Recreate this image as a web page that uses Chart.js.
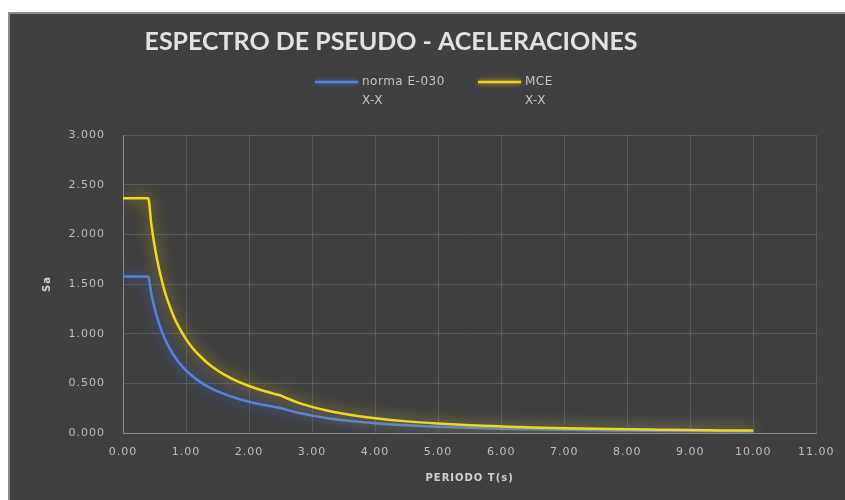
<!DOCTYPE html>
<html>
<head>
<meta charset="utf-8">
<script src="https://cdn.jsdelivr.net/npm/chart.js@4.4.1/dist/chart.umd.min.js"></script>
<style>
  html, body { margin: 0; padding: 0; background: #ffffff; }
  #wrap { position: absolute; left: 0; top: 0; width: 845px; height: 500px; }
</style>
</head>
<body>
<div id="wrap"><canvas id="spectrum" width="845" height="500"></canvas></div>
<script>
// Periods T (s)
const periods = [0, 0.1, 0.2, 0.3, 0.4, 0.45, 0.5, 0.55, 0.6, 0.65, 0.7, 0.8, 0.9, 1.0,
  1.1, 1.2, 1.3, 1.4, 1.5, 1.6, 1.8, 2.0, 2.2, 2.4, 2.5, 2.6, 2.8, 3.0, 3.25, 3.5, 3.75,
  4.0, 4.5, 5.0, 5.5, 6.0, 6.5, 7.0, 7.5, 8.0, 8.5, 9.0, 9.5, 10.0];

// Sa – design spectrum, norma E-030, X-X direction
const saE030 = [1.575, 1.575, 1.575, 1.575, 1.575, 1.400, 1.260, 1.145, 1.050, 0.969, 0.900, 0.788, 0.700, 0.630,
  0.573, 0.525, 0.485, 0.450, 0.420, 0.394, 0.350, 0.315, 0.286, 0.263, 0.252, 0.233, 0.201, 0.175, 0.149, 0.129, 0.112,
  0.098, 0.078, 0.063, 0.052, 0.044, 0.037, 0.032, 0.028, 0.025, 0.022, 0.019, 0.017, 0.016];

// Sa – maximum considered earthquake, X-X direction
const saMCE = [2.363, 2.363, 2.363, 2.363, 2.363, 2.100, 1.890, 1.718, 1.575, 1.454, 1.350, 1.181, 1.050, 0.945,
  0.859, 0.788, 0.727, 0.675, 0.630, 0.591, 0.525, 0.473, 0.430, 0.394, 0.378, 0.350, 0.301, 0.263, 0.224, 0.193, 0.168,
  0.148, 0.117, 0.095, 0.078, 0.066, 0.056, 0.048, 0.042, 0.037, 0.033, 0.029, 0.026, 0.024];

const seriesNames = ['norma E-030', 'MCE'];
const seriesDirs = ['X-X', 'X-X'];
const chartTitle = 'ESPECTRO DE PSEUDO - ACELERACIONES';
const xTitle = 'PERIODO T(s)';
const yTitle = 'Sa';

const lineColors = ['#5682da', '#f0d820'];
const glowColors = ['rgba(70,110,230,0.95)', 'rgba(225,185,10,0.95)'];

const toPoints = ys => periods.map((t, i) => ({ x: t, y: ys[i] }));

// dark panel with a light edge on the left and top
const panelPlugin = {
  id: 'panel',
  beforeDraw(chart) {
    const ctx = chart.ctx;
    ctx.save();
    ctx.fillStyle = '#ffffff';
    ctx.fillRect(0, 0, chart.width, chart.height);
    ctx.fillStyle = '#404040';
    ctx.fillRect(8, 12, chart.width - 8, chart.height - 12);
    ctx.fillStyle = '#8a8a8a';
    ctx.fillRect(8, 12, 2, chart.height - 12);
    ctx.fillRect(8, 12, chart.width - 8, 2);
    ctx.restore();
    ctx.letterSpacing = '1px';
  }
};

// soft glow under each curve
const glowPlugin = {
  id: 'glow',
  beforeDatasetDraw(chart, args) {
    const ctx = chart.ctx;
    ctx.save();
    ctx.shadowColor = glowColors[args.index];
    ctx.shadowBlur = 14;
  },
  afterDatasetDraw(chart) {
    chart.ctx.restore();
  }
};

// chart heading and two-line legend
const headerPlugin = {
  id: 'header',
  afterDraw(chart) {
    const ctx = chart.ctx;
    ctx.save();
    ctx.letterSpacing = '0px';
    ctx.fillStyle = '#e2e2e2';
    ctx.font = 'bold 25px Lato, "Open Sans", sans-serif';
    ctx.textAlign = 'center';
    ctx.textBaseline = 'middle';
    ctx.fillText(chartTitle, 391, 42);

    const items = [{ x: 315 }, { x: 478 }];
    ctx.font = '12px "DejaVu Sans", sans-serif';
    ctx.letterSpacing = '0.5px';
    ctx.textAlign = 'left';
    items.forEach((it, i) => {
      ctx.strokeStyle = lineColors[i];
      ctx.lineWidth = 2.5;
      ctx.shadowColor = glowColors[i];
      ctx.shadowBlur = 5;
      ctx.beginPath();
      ctx.moveTo(it.x, 82);
      ctx.lineTo(it.x + 43, 82);
      ctx.stroke();
      ctx.shadowBlur = 0;
      ctx.fillStyle = '#c4c4c4';
      ctx.fillText(seriesNames[i], it.x + 47, 82);
      ctx.fillText(seriesDirs[i], it.x + 47, 101);
    });
    ctx.restore();
  }
};

const tickFont = { family: '"DejaVu Sans", sans-serif', size: 11 };
const titleFont = { family: '"DejaVu Sans", sans-serif', size: 10, weight: 'bold' };

new Chart(document.getElementById('spectrum'), {
  type: 'line',
  data: {
    datasets: [
      {
        label: seriesNames[0] + ' ' + seriesDirs[0],
        data: toPoints(saE030),
        borderColor: lineColors[0],
        borderWidth: 2.5,
        pointRadius: 0,
        fill: false,
        order: 1
      },
      {
        label: seriesNames[1] + ' ' + seriesDirs[1],
        data: toPoints(saMCE),
        borderColor: lineColors[1],
        borderWidth: 2.5,
        pointRadius: 0,
        fill: false,
        order: 0
      }
    ]
  },
  options: {
    responsive: false,
    animation: false,
    devicePixelRatio: 1,
    layout: { padding: { left: 0, right: 26, top: 135, bottom: 0 } },
    plugins: {
      legend: { display: false },
      title: { display: false },
      tooltip: { enabled: false }
    },
    elements: { line: { tension: 0, cubicInterpolationMode: 'monotone' } },
    scales: {
      x: {
        type: 'linear',
        min: 0,
        max: 11,
        afterFit(scale) { scale.height = 67; },
        ticks: {
          stepSize: 1,
          color: '#bdbdbd',
          font: tickFont,
          padding: 13,
          maxRotation: 0,
          callback: v => Number(v).toFixed(2)
        },
        grid: { color: 'rgba(255,255,255,0.14)', drawTicks: false },
        border: { color: '#8c8c8c', width: 1 },
        title: {
          display: true,
          text: xTitle,
          color: '#d0d0d0',
          font: titleFont,
          padding: { top: 0, bottom: 16 }
        }
      },
      y: {
        min: 0,
        max: 3,
        afterFit(scale) { scale.width = 123; },
        ticks: {
          stepSize: 0.5,
          color: '#bdbdbd',
          font: tickFont,
          padding: 18,
          callback: v => Number(v).toFixed(3)
        },
        grid: { color: 'rgba(255,255,255,0.14)', drawTicks: false },
        border: { color: '#8c8c8c', width: 1 },
        title: {
          display: true,
          text: yTitle,
          color: '#d0d0d0',
          font: titleFont,
          padding: { top: 41, bottom: 0 }
        }
      }
    }
  },
  plugins: [panelPlugin, glowPlugin, headerPlugin]
});
</script>
</body>
</html>
